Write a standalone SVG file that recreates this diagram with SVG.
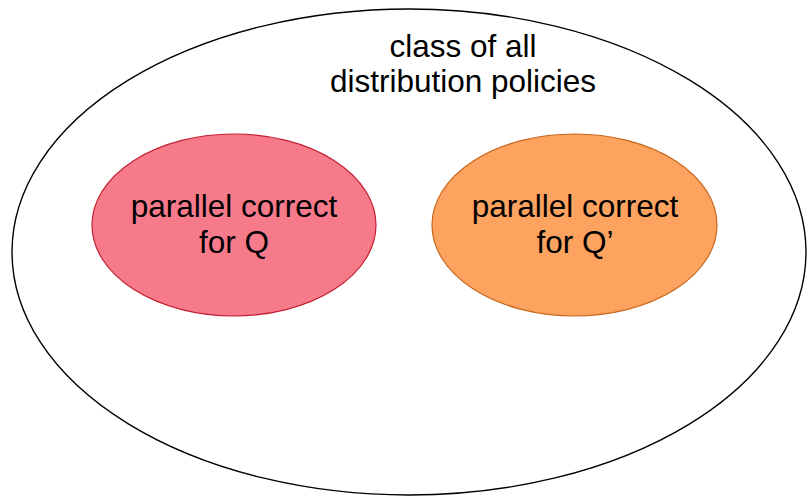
<svg xmlns="http://www.w3.org/2000/svg" width="807" height="496" viewBox="0 0 807 496">
  <style>
    .label { font-family: "Liberation Sans", Arial, sans-serif; font-size: 31.5px; fill: #000; text-anchor: middle; }
    .outer { fill: #fff; stroke: #000; stroke-width: 1.4; }
    .pink { fill: #F77A8B; stroke: #C41E30; stroke-width: 1.2; }
    .orange { fill: #FDA35F; stroke: #C8661A; stroke-width: 1.2; }
  </style>
  <rect width="807" height="496" fill="#fff"/>
  <g id="all-policies">
    <ellipse class="outer" cx="409" cy="252" rx="397" ry="243"/>
    <text class="label" x="463" y="57">class of all</text>
    <text class="label" x="463" y="92">distribution policies</text>
  </g>
  <g id="correct-q">
    <ellipse class="pink" cx="234" cy="225" rx="142" ry="91"/>
    <text class="label" x="234" y="217">parallel correct</text>
    <text class="label" x="234" y="253">for Q</text>
  </g>
  <g id="correct-q-prime">
    <ellipse class="orange" cx="574.5" cy="225" rx="142.5" ry="91"/>
    <text class="label" x="575" y="217">parallel correct</text>
    <text class="label" x="575" y="253">for Q’</text>
  </g>
  <g id="connectors"/>
</svg>
